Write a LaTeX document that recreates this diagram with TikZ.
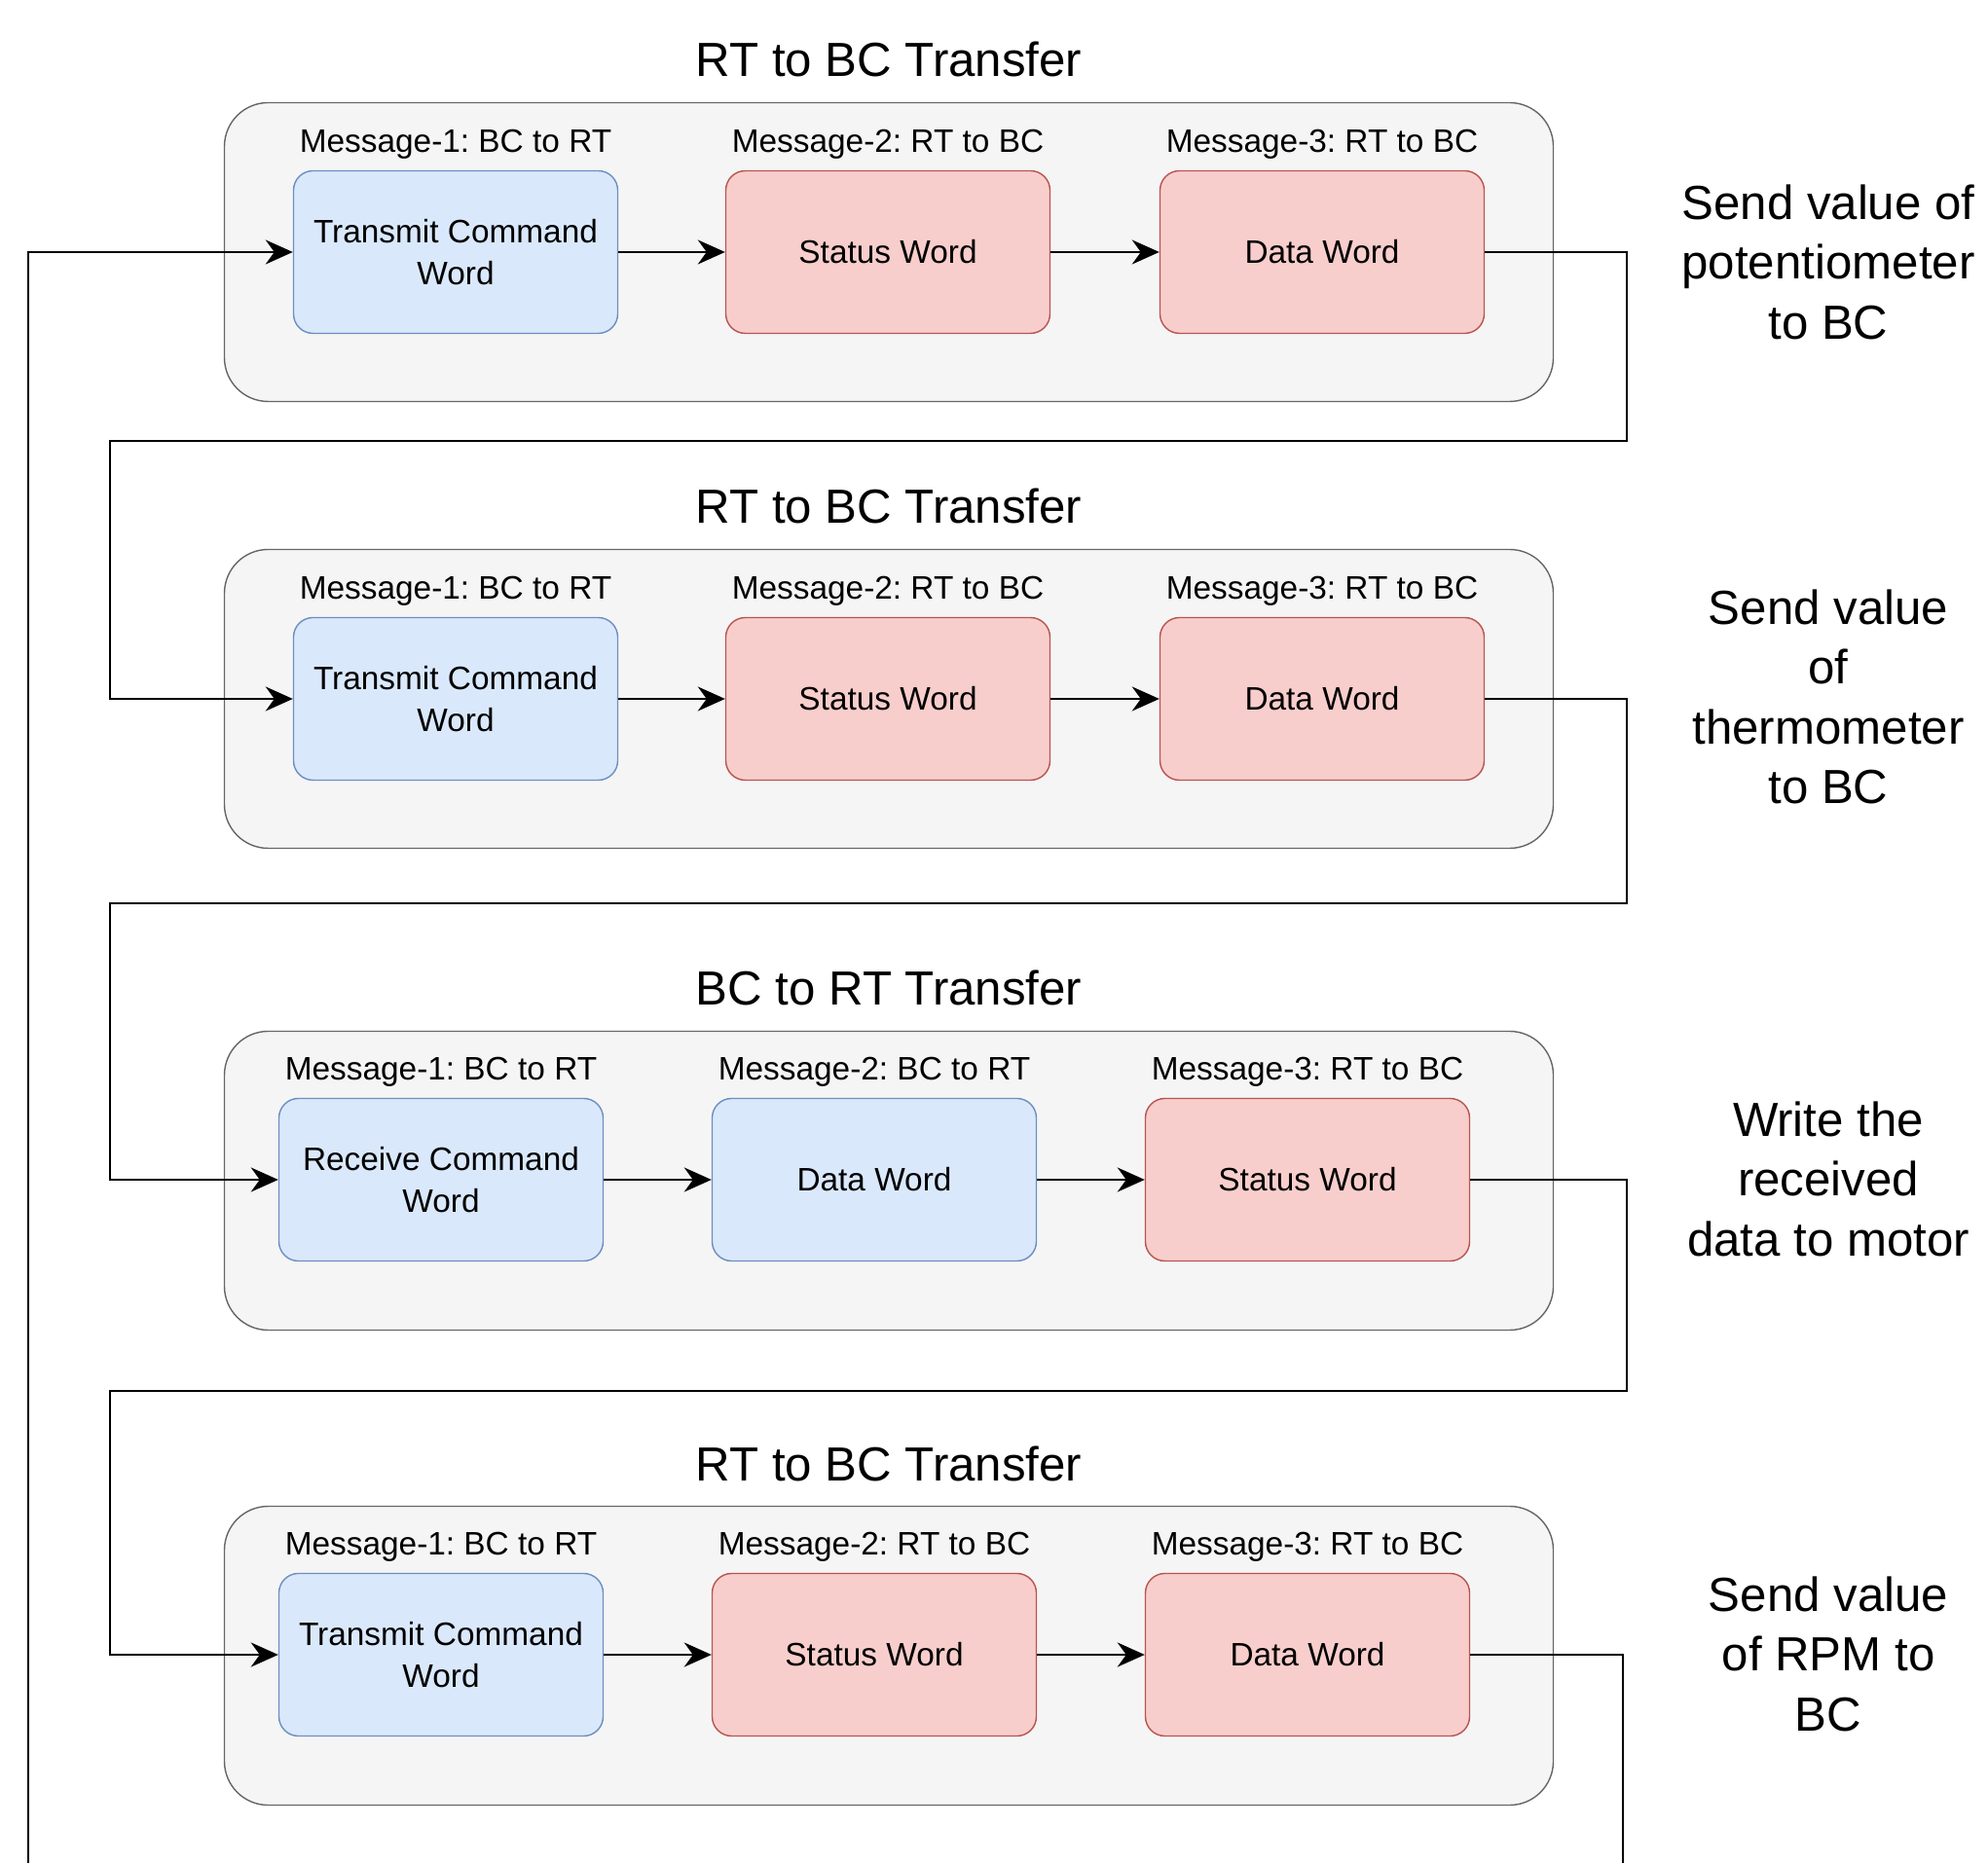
\documentclass[tikz,border=0pt]{standalone}
\usepackage{fontspec}
\setmainfont{Liberation Sans}
\usepackage{xcolor}
\usepackage{tikz}
\usetikzlibrary{arrows.meta, positioning}
\definecolor{bluefill}{RGB}{218,232,252}
\definecolor{blueline}{RGB}{108,142,191}
\definecolor{redfill}{RGB}{248,206,204}
\definecolor{redline}{RGB}{184,84,80}
\definecolor{groupfill}{RGB}{245,245,245}
\definecolor{groupline}{RGB}{102,102,102}
\frenchspacing

\begin{document}
\begin{tikzpicture}[
  group/.style={draw=groupline, fill=groupfill, rounded corners=0.45cm,
                minimum width=13.65cm, minimum height=3.07cm},
  bcword/.style={draw=blueline, fill=bluefill, rounded corners=0.2cm,
                 minimum width=3.33cm, minimum height=1.67cm,
                 align=center, font=\fontsize{9.5}{12}\selectfont},
  rtword/.style={bcword, draw=redline, fill=redfill},
  msg/.style={font=\fontsize{9.5}{12}\selectfont, inner sep=0pt},
  title/.style={font=\fontsize{14}{17}\selectfont},
  note/.style={align=center, font=\fontsize{14}{17.5}\selectfont},
  arr/.style={-{Stealth[length=2.8mm, width=2.5mm, inset=0.9mm]}, line width=0.75pt},
  link/.style={line width=0.75pt}
]
\useasboundingbox (0,0) rectangle (20.42,19.14);

%% Transfer 1
\node[group] (g1) at (9.13, 16.55) {};
\node[title] (t1) at (9.13, 18.53) {RT to BC Transfer};
\node[bcword] (cmd1)  at (4.68, 16.55)  {Transmit Command\\Word};
\node[rtword] (stat1) at (9.12, 16.55)  {Status Word};
\node[rtword] (data1) at (13.58, 16.55) {Data Word};
\node[msg, above=3pt of cmd1]  (m11) {Message-1: BC to RT};
\node[msg, above=3pt of stat1] (m12) {Message-2: RT to BC};
\node[msg, above=3pt of data1] (m13) {Message-3: RT to BC};
\node[note] (n1) at (18.78, 16.45) {Send value of\\potentiometer\\to BC};

%% Transfer 2
\node[group] (g2) at (9.13, 11.96) {};
\node[title] (t2) at (9.13, 13.94) {RT to BC Transfer};
\node[bcword] (cmd2)  at (4.68, 11.96)  {Transmit Command\\Word};
\node[rtword] (stat2) at (9.12, 11.96)  {Status Word};
\node[rtword] (data2) at (13.58, 11.96) {Data Word};
\node[msg, above=3pt of cmd2]  (m21) {Message-1: BC to RT};
\node[msg, above=3pt of stat2] (m22) {Message-2: RT to BC};
\node[msg, above=3pt of data2] (m23) {Message-3: RT to BC};
\node[note] (n2) at (18.78, 11.98) {Send value\\of\\thermometer\\to BC};

%% Transfer 3
\node[group] (g3) at (9.13, 7.01) {};
\node[title] (t3) at (9.13, 8.99) {BC to RT Transfer};
\node[bcword] (cmd3)  at (4.53, 7.02)  {Receive Command\\Word};
\node[bcword] (dw3)   at (8.98, 7.02)  {Data Word};
\node[rtword] (stat3) at (13.43, 7.02) {Status Word};
\node[msg, above=3pt of cmd3]  (m31) {Message-1: BC to RT};
\node[msg, above=3pt of dw3]   (m32) {Message-2: BC to RT};
\node[msg, above=3pt of stat3] (m33) {Message-3: RT to BC};
\node[note] (n3) at (18.78, 7.03) {Write the\\received\\data to motor};

%% Transfer 4
\node[group] (g4) at (9.13, 2.13) {};
\node[title] (t4) at (9.13, 4.10) {RT to BC Transfer};
\node[bcword] (cmd4)  at (4.53, 2.14)  {Transmit Command\\Word};
\node[rtword] (stat4) at (8.98, 2.14)  {Status Word};
\node[rtword] (data4) at (13.43, 2.14) {Data Word};
\node[msg, above=3pt of cmd4]  (m41) {Message-1: BC to RT};
\node[msg, above=3pt of stat4] (m42) {Message-2: RT to BC};
\node[msg, above=3pt of data4] (m43) {Message-3: RT to BC};
\node[note] (n4) at (18.78, 2.15) {Send value\\of RPM to\\BC};

%% Turning points
\coordinate (r1) at (16.71, 14.61);
\coordinate (l1) at (1.13, 14.61);
\coordinate (r2) at (16.71, 9.86);
\coordinate (l2) at (1.13, 9.86);
\coordinate (r3) at (16.71, 4.85);
\coordinate (l3) at (1.13, 4.85);
\coordinate (r4) at (16.67, 0);
\coordinate (l0) at (0.29, 0);

%% Word arrows
\draw[arr] (cmd1) -- (stat1);
\draw[arr] (stat1) -- (data1);
\draw[arr] (cmd2) -- (stat2);
\draw[arr] (stat2) -- (data2);
\draw[arr] (cmd3) -- (dw3);
\draw[arr] (dw3) -- (stat3);
\draw[arr] (cmd4) -- (stat4);
\draw[arr] (stat4) -- (data4);

%% Links between transfers
\draw[arr] (l0) |- (cmd1.west);
\draw[arr] (data1.east) -| (r1) -- (l1) |- (cmd2.west);
\draw[arr] (data2.east) -| (r2) -- (l2) |- (cmd3.west);
\draw[arr] (stat3.east) -| (r3) -- (l3) |- (cmd4.west);
\draw[link] (data4.east) -| (r4);

\end{tikzpicture}
\end{document}
